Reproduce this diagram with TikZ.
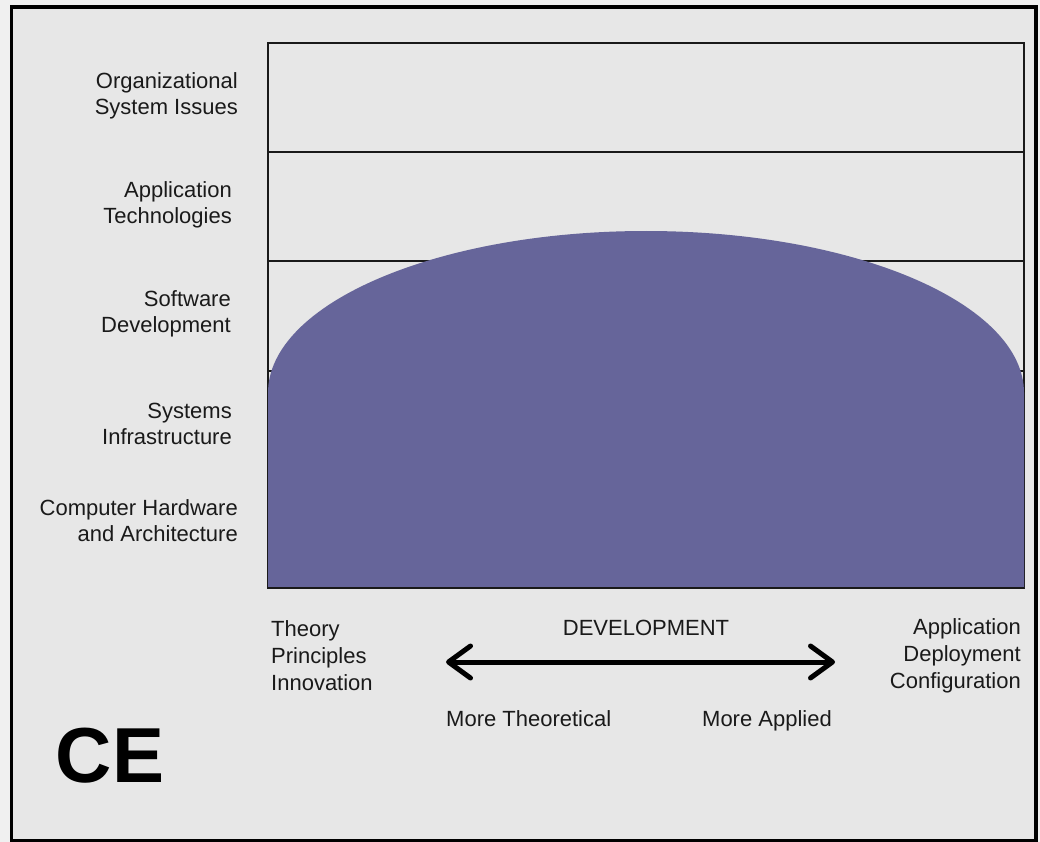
\documentclass[tikz,border=0pt]{standalone}
\usepackage{fontspec}
\setmainfont{Liberation Sans}
\usetikzlibrary{arrows.meta}
\definecolor{bgout}{HTML}{F0F0F0}
\definecolor{bgin}{HTML}{E7E7E7}
\definecolor{blob}{HTML}{66659A}
\definecolor{ink}{HTML}{1A1A1A}
\tikzset{
  lbl/.style={inner sep=0pt, font=\fontsize{22}{26}\selectfont, text=ink, align=right, anchor=east},
  btxt/.style={inner sep=0pt, font=\fontsize{22}{27}\selectfont, text=ink},
  gridline/.style={draw=ink, line width=1.6pt},
}
\begin{document}
\begin{tikzpicture}[x=1pt,y=-1pt]
\useasboundingbox (0,0) rectangle (1040,842);
\fill[bgout] (0,0) rectangle (1040,842);
\filldraw[fill=bgin, draw=black, line width=3.5pt] (11.5,7) rectangle (1036,841);
% grid
\draw[gridline] (268,43) rectangle (1024,588);
\draw[gridline] (268,152) -- (1024,152);
\draw[gridline] (268,261) -- (1024,261);
\draw[gridline] (268,371) -- (1024,371);
% blob
\fill[blob] (268,588) -- (268,393) arc[start angle=180, end angle=360, x radius=378, y radius=162] -- (1024,588) -- cycle;
\draw[ink, line width=1.6pt] (268,588) -- (1024,588);
% left labels
\node[lbl] (l1) at (238,96) {Organizational\\System Issues};
\node[lbl] (l2) at (232,205) {Application\\Technologies};
\node[lbl] (l3) at (231,314) {Software\\Development};
\node[lbl] (l4) at (232,424) {Systems\\Infrastructure};
\node[lbl] (l5) at (238,521) {Computer Hardware\\and Architecture};
% bottom texts
\node[btxt, align=left, anchor=west] (theory) at (271,656) {Theory\\Principles\\Innovation};
\node[btxt, align=right, anchor=east] (appl) at (1021,656) {Application\\Deployment\\Configuration};
\node[btxt] (dev) at (646,628) {DEVELOPMENT};
\node[btxt, anchor=base west] (mt) at (446,726) {More Theoretical};
\node[btxt, anchor=base east] (ma) at (832,726) {More Applied};
\coordinate (al) at (446,662);
\coordinate (ar) at (835,662);
\draw[line width=5pt, black, {Straight Barb[length=22pt,width=32pt,round]}-{Straight Barb[length=22pt,width=32pt,round]}] (al) -- (ar);
\node[inner sep=0pt, font=\fontsize{78}{80}\selectfont\bfseries] (ce) at (110,756) {CE};
\end{tikzpicture}
\end{document}
